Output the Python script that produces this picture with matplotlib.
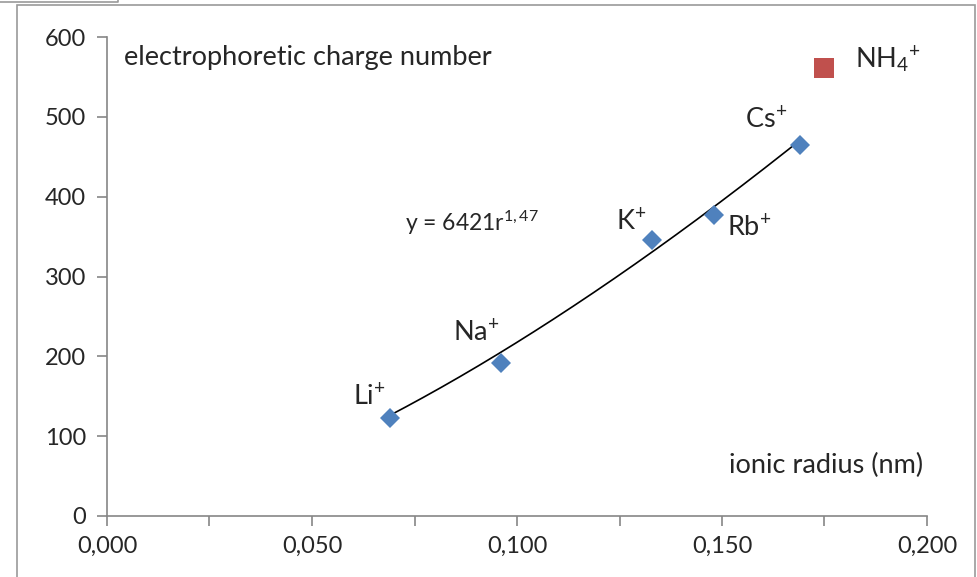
import numpy as np
import matplotlib
matplotlib.use("Agg")
import matplotlib.pyplot as plt
from matplotlib.patches import Rectangle
from matplotlib.lines import Line2D

# Alkali cations: ionic radius (nm) vs electrophoretic charge number
ions = ["Li", "Na", "K", "Rb", "Cs"]
radius = [0.069, 0.096, 0.133, 0.148, 0.169]
charge_number = [123, 192, 346, 377, 465]

# Ammonium, plotted separately
nh4_radius = [0.175]
nh4_charge = [561]

# Power-law fit y = a * r^b
fit_a = 6421
fit_b = 1.47

plt.rcParams["font.family"] = ["Lato", "DejaVu Sans"]
plt.rcParams["mathtext.fontset"] = "custom"
plt.rcParams["mathtext.rm"] = "Lato"
plt.rcParams["mathtext.it"] = "Lato"
plt.rcParams["mathtext.bf"] = "Lato"

txt = "#262626"
grey = "#868686"

fig = plt.figure(figsize=(9.78, 5.77), dpi=100)
ax = fig.add_axes([107 / 978, 1 - 516 / 577, 820 / 978, 479 / 577])

# chart frame
fig.patches.append(Rectangle((17 / 978, -0.02), (975 - 17) / 978, 1 - 5 / 577 + 0.02,
                             transform=fig.transFigure, fill=False,
                             edgecolor="#9a9a9a", linewidth=1.2))
fig.lines.append(Line2D([0, 118 / 978, 118 / 978], [1 - 2 / 577, 1 - 2 / 577, 1],
                        transform=fig.transFigure, color="#9a9a9a", linewidth=1.2))

# trend line
r_fit = np.linspace(min(radius), max(radius), 200)
ax.plot(r_fit, fit_a * r_fit ** fit_b, color="black", linewidth=1.2, zorder=2)

ax.plot(radius, charge_number, linestyle="none", marker="D", markersize=10.5,
        color="#4F81BD", markeredgewidth=0, zorder=3)
ax.plot(nh4_radius, nh4_charge, linestyle="none", marker="s", markersize=14,
        color="#C0504D", markeredgewidth=0, zorder=3)

ax.set_xlim(0, 0.2)
ax.set_ylim(0, 600)
ax.set_xticks(np.arange(0, 0.2001, 0.05))
ax.set_xticks(np.arange(0.025, 0.2, 0.05), minor=True)
ax.set_xticklabels([f"{v:.3f}".replace(".", ",") for v in np.arange(0, 0.2001, 0.05)])
ax.set_yticks(np.arange(0, 601, 100))

for s in ["top", "right"]:
    ax.spines[s].set_visible(False)
for s in ["left", "bottom"]:
    ax.spines[s].set_color(grey)
    ax.spines[s].set_linewidth(1.2)
ax.tick_params(which="both", direction="out", color=grey, width=1.2, length=7,
               labelsize=17, labelcolor=txt)
ax.tick_params(axis="x", pad=7)
ax.tick_params(axis="y", pad=8)

fs = 19.5
ax.text(0.0042, 574, "electrophoretic charge number", fontsize=fs, color=txt,
        ha="left", va="center")
ax.text(0.199, 63, "ionic radius (nm)", fontsize=fs, color=txt, ha="right", va="center")

label_pos = {
    "Li": (0.0641, 149),
    "Na": (0.0900, 229),
    "K": (0.1278, 368),
    "Rb": (0.1566, 361),
    "Cs": (0.1607, 496),
}
for name in ions:
    x, y = label_pos[name]
    ax.text(x, y, name + r"$^{+}$", fontsize=fs, color=txt, ha="center", va="center")
ax.text(0.1905, 571, r"NH$_{4}$$^{+}$", fontsize=fs, color=txt, ha="center", va="center")

ax.text(0.0727, 367, r"y = 6421r$^{1,47}$", fontsize=16.5, color=txt,
        ha="left", va="center")

fig.savefig("out.png", dpi=100)
